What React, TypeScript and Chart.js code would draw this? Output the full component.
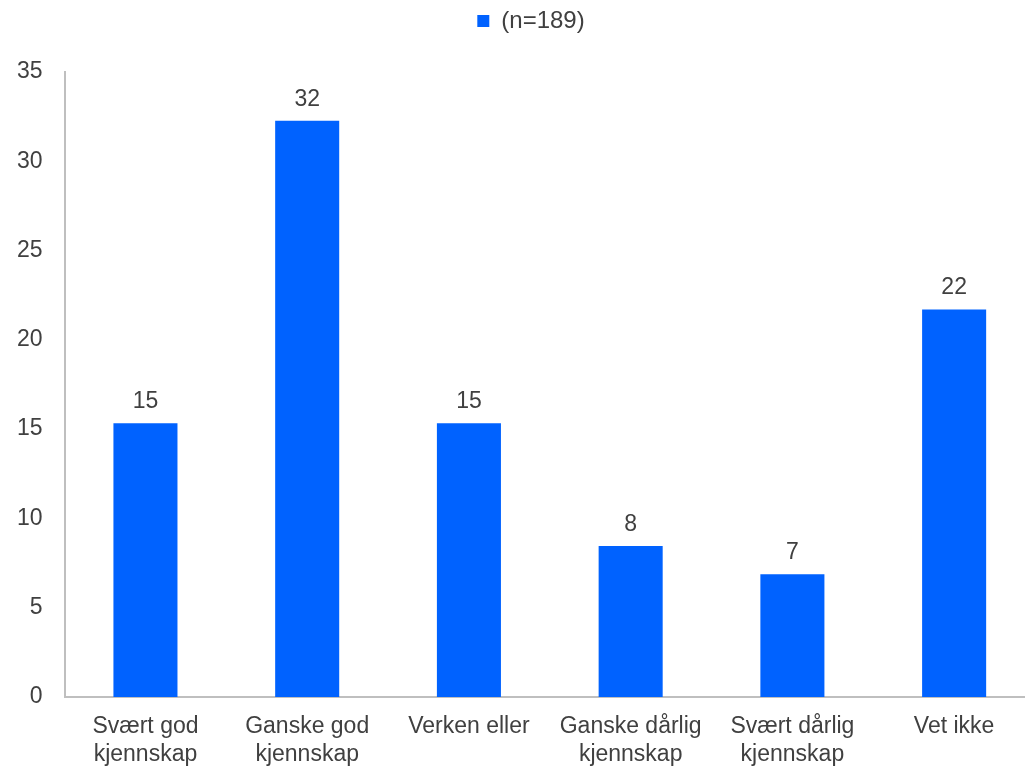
import React, { useEffect, useRef } from "react";
import { Chart, registerables } from "chart.js";

Chart.register(...registerables);

const categories: string[][] = [
  ["Svært god", "kjennskap"],
  ["Ganske god", "kjennskap"],
  ["Verken eller"],
  ["Ganske dårlig", "kjennskap"],
  ["Svært dårlig", "kjennskap"],
  ["Vet ikke"],
];
const seriesLabel = "(n=189)";
const values = [15.33, 32.27, 15.33, 8.45, 6.87, 21.7];
const valueLabels = ["15", "32", "15", "8", "7", "22"];
const yTicks = [0, 5, 10, 15, 20, 25, 30, 35];

const FONT = "'Liberation Sans', Arial, sans-serif";
const TEXT = "#404040";
const BLUE = "#0062FF";
const FS = 23;

const labelPlugin = {
  id: "valueLabels",
  afterDatasetsDraw(chart: any) {
    const ctx = chart.ctx;
    const meta = chart.getDatasetMeta(0);
    ctx.save();
    ctx.font = `${FS}px ${FONT}`;
    ctx.fillStyle = TEXT;
    ctx.textAlign = "center";
    ctx.textBaseline = "alphabetic";
    meta.data.forEach((bar: any, i: number) => {
      ctx.fillText(valueLabels[i], bar.x, bar.y - 15);
    });
    ctx.restore();
  },
};

const legendSpacePlugin = {
  id: "legendSpace",
  beforeLayout(chart: any) {
    const lg = chart.legend;
    if (lg && !lg._patched) {
      const orig = lg.fit.bind(lg);
      lg.fit = function () {
        orig();
        this.height += 29;
      };
      lg._patched = true;
    }
  },
  afterLayout(chart: any) {
    const lg = chart.legend;
    if (lg) {
      lg.left += 12;
      lg.right += 12;
    }
  },
};

export default function App() {
  const ref = useRef<HTMLCanvasElement>(null);
  useEffect(() => {
    if (!ref.current) return;
    const chart = new Chart(ref.current, {
      type: "bar",
      data: {
        labels: categories,
        datasets: [
          {
            label: seriesLabel,
            data: values,
            backgroundColor: BLUE,
            barPercentage: 0.396,
            categoryPercentage: 1,
          },
        ],
      },
      options: {
        responsive: false,
        animation: false,
        layout: { padding: { top: 0, left: 0, right: 0, bottom: 0 } },
        plugins: {
          legend: {
            position: "top",
            labels: {
              boxWidth: 12,
              boxHeight: 12,
              color: TEXT,
              font: { family: FONT, size: 24 },
              padding: 9,
            },
          },
          tooltip: { enabled: false },
        },
        scales: {
          x: {
            grid: { display: false },
            border: { display: true, color: "#bfbfbf", width: 2 },
            ticks: {
              color: TEXT,
              font: { family: FONT, size: FS, lineHeight: 1.22 },
              maxRotation: 0,
              autoSkip: false,
              padding: 8,
            },
          },
          y: {
            min: 0,
            max: 35,
            afterBuildTicks: (axis: any) => {
              axis.ticks = yTicks.map((v) => ({ value: v }));
            },
            grid: { display: false },
            border: { display: true, color: "#bfbfbf", width: 2 },
            ticks: {
              color: TEXT,
              font: { family: FONT, size: FS },
              padding: 14,
            },
          },
        },
      },
      plugins: [labelPlugin, legendSpacePlugin],
    });
    return () => chart.destroy();
  }, []);
  return (
    <div
      style={{
        position: "absolute",
        left: 0,
        top: 0,
        width: 1025,
        height: 767,
        overflow: "hidden",
        background: "#fff",
      }}
    >
      <canvas
        ref={ref}
        width={1032}
        height={777}
        style={{ display: "block", position: "absolute", left: 3, top: 0 }}
      />
    </div>
  );
}
